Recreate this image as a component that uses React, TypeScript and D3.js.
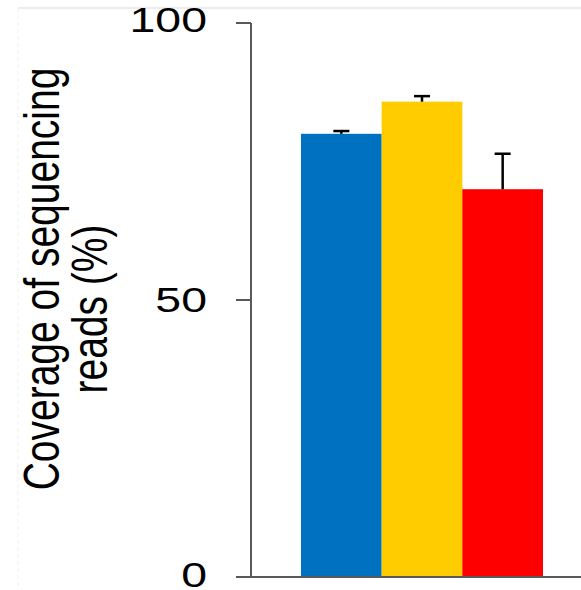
import { useEffect, useRef } from 'react';
import * as d3 from 'd3';

const groups = ['Group 1', 'Group 2', 'Group 3'];
const coverage = [80.0, 85.8, 70.0];
const errors = [0.5, 1.0, 6.4];
const colors = ['#0070C0', '#FFCC00', '#FF0000'];
const yTicks = [0, 50, 100];
const labelLines = ['Coverage of sequencing', 'reads (%)'];

const W = 581;
const H = 590;
const FONT = 'Arial, "Liberation Sans", Helvetica, sans-serif';

export default function App() {
  const svgRef = useRef<SVGSVGElement>(null);

  useEffect(() => {
    if (!svgRef.current) return;
    const svg = d3.select(svgRef.current);
    svg.selectAll('*').remove();

    const y = d3.scaleLinear().domain([0, 100]).range([577, 23]);
    const x = d3.scaleBand().domain(groups).range([301, 543]).padding(0);
    const axisX = 251;
    const axisColor = '#595959';

    // faint crop frame
    svg.append('line').attr('x1', 18).attr('x2', W).attr('y1', 8).attr('y2', 8)
      .attr('stroke', '#dcdcdc').attr('stroke-width', 1.2);
    svg.append('line').attr('x1', 18).attr('x2', 18).attr('y1', 8).attr('y2', H)
      .attr('stroke', '#eeeeee').attr('stroke-width', 1).attr('stroke-dasharray', '4,3');

    // bars
    svg.selectAll('.bar')
      .data(groups)
      .join('rect')
      .attr('x', d => x(d)!)
      .attr('width', x.bandwidth())
      .attr('y', (_, i) => y(coverage[i]))
      .attr('height', (_, i) => y(0) - y(coverage[i]))
      .attr('fill', (_, i) => colors[i]);

    // error bars
    const eb = svg.append('g').attr('stroke', '#000').attr('stroke-width', 2.5);
    groups.forEach((g, i) => {
      const cx = x(g)! + x.bandwidth() / 2;
      const top = y(coverage[i] + errors[i]);
      eb.append('line').attr('x1', cx).attr('x2', cx).attr('y1', y(coverage[i])).attr('y2', top);
      eb.append('line').attr('x1', cx - 8).attr('x2', cx + 8).attr('y1', top).attr('y2', top);
    });

    // y axis
    svg.append('line').attr('x1', axisX).attr('x2', axisX).attr('y1', y(100)).attr('y2', y(0))
      .attr('stroke', axisColor).attr('stroke-width', 2);
    svg.append('line').attr('x1', 236).attr('x2', W).attr('y1', y(0)).attr('y2', y(0))
      .attr('stroke', axisColor).attr('stroke-width', 2);
    yTicks.forEach(t => {
      svg.append('line').attr('x1', 236).attr('x2', axisX).attr('y1', y(t)).attr('y2', y(t))
        .attr('stroke', axisColor).attr('stroke-width', 2);
      const by = y(t) + (t === 100 ? 9 : t === 0 ? 10 : 12);
      svg.append('text')
        .attr('transform', `translate(207,${by}) scale(1.29,1)`)
        .attr('text-anchor', 'end')
        .attr('font-family', FONT)
        .attr('font-size', 36)
        .attr('fill', '#000')
        .text(String(t));
    });

    // axis title
    const titlePos = [{ bx: 59, cy: 279 }, { bx: 107, cy: 309 }];
    labelLines.forEach((line, i) => {
      svg.append('text')
        .attr('transform', `translate(${titlePos[i].bx},${titlePos[i].cy}) scale(1.29,1) rotate(-90)`)
        .attr('text-anchor', 'middle')
        .attr('font-family', FONT)
        .attr('font-size', 39)
        .attr('fill', '#000')
        .text(line);
    });
  }, []);

  return (
    <svg
      ref={svgRef}
      width={W}
      height={H}
      style={{ position: 'absolute', left: 0, top: 0, background: '#fff', display: 'block' }}
    />
  );
}
